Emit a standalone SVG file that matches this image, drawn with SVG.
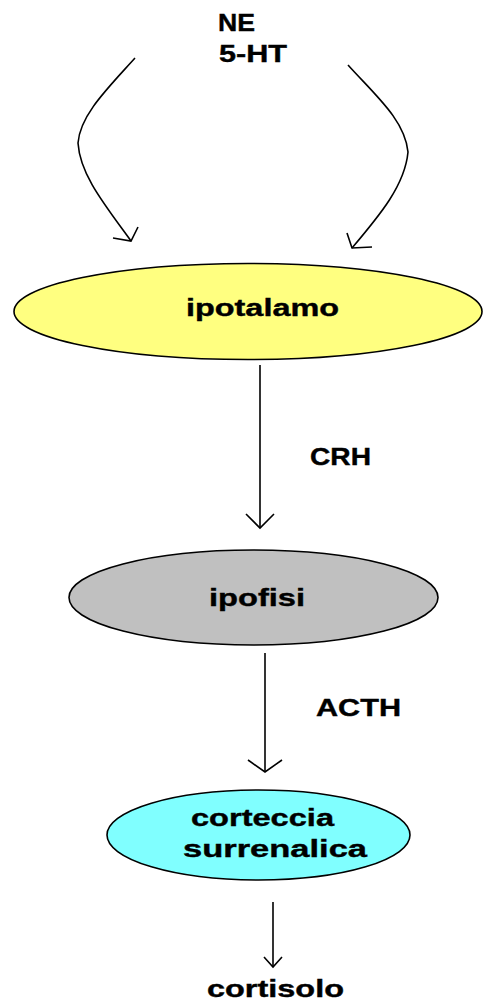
<svg xmlns="http://www.w3.org/2000/svg" width="483" height="1001" viewBox="0 0 483 1001">
  <style>
    .node { stroke: #000; stroke-width: 1.6; }
    .lbl { font-family: "Liberation Sans", Arial, sans-serif; font-weight: bold; font-size: 24px; fill: #000; stroke: #000; stroke-width: 0.4; }
    .wire { fill: none; stroke: #000; stroke-width: 1.6; }
  </style>
  <rect width="483" height="1001" fill="#fff"/>

  <!-- neurotransmitter source label -->
  <g id="ne-5ht">
    <text class="lbl" x="218" y="31" textLength="37" lengthAdjust="spacingAndGlyphs">NE</text>
    <text class="lbl" x="219" y="62" textLength="68" lengthAdjust="spacingAndGlyphs">5-HT</text>
  </g>

  <g id="ipotalamo">
    <ellipse class="node" cx="248" cy="311.5" rx="234" ry="48" fill="#FFFF80"/>
    <text class="lbl" x="186" y="316" textLength="153" lengthAdjust="spacingAndGlyphs">ipotalamo</text>
  </g>

  <g id="ipofisi">
    <ellipse class="node" cx="253.5" cy="597.5" rx="184.5" ry="47.5" fill="#C0C0C0"/>
    <text class="lbl" x="209" y="606" textLength="96" lengthAdjust="spacingAndGlyphs">ipofisi</text>
  </g>

  <g id="corteccia">
    <ellipse class="node" cx="258.5" cy="835" rx="151.5" ry="45" fill="#80FFFF"/>
    <text class="lbl" x="191" y="826" textLength="143" lengthAdjust="spacingAndGlyphs">corteccia</text>
    <text class="lbl" x="183" y="857" textLength="184" lengthAdjust="spacingAndGlyphs">surrenalica</text>
  </g>

  <g id="cortisolo">
    <text class="lbl" x="207" y="997" textLength="137" lengthAdjust="spacingAndGlyphs">cortisolo</text>
  </g>

  <!-- connectors -->
  <g id="connectors">
    <!-- curved inputs into the hypothalamus -->
    <path class="wire" d="M135,58 C108,88 80,115 78,143 C80,175 105,205 131,241"/>
    <polyline class="wire" points="113,238 131,241 138,227"/>
    <path class="wire" d="M348,65 C375,95 405,120 408,152 C405,185 380,215 352,248"/>
    <polyline class="wire" points="372,247 352,248 347,233"/>

    <!-- CRH -->
    <line class="wire" x1="260" y1="365" x2="260" y2="528"/>
    <polyline class="wire" points="246,514 260,528 274,514"/>
    <text class="lbl" x="310" y="465" textLength="61" lengthAdjust="spacingAndGlyphs">CRH</text>

    <!-- ACTH -->
    <line class="wire" x1="265" y1="653" x2="265" y2="772"/>
    <polyline class="wire" points="248,760 265,772 282,760"/>
    <text class="lbl" x="316" y="716" textLength="85" lengthAdjust="spacingAndGlyphs">ACTH</text>

    <!-- cortisol output -->
    <line class="wire" x1="273" y1="902" x2="273" y2="967"/>
    <polyline class="wire" points="264,957 273,967 282,957"/>
  </g>
</svg>
